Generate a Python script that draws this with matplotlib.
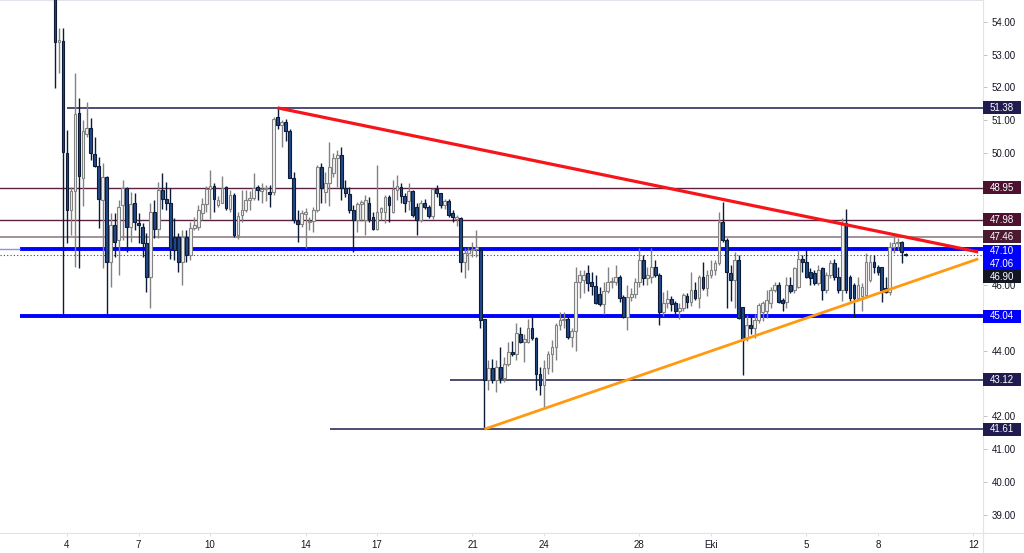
import matplotlib
matplotlib.use('Agg')
import matplotlib.pyplot as plt
import matplotlib.dates as mdates
from matplotlib.patches import Rectangle
from matplotlib.lines import Line2D
from matplotlib.transforms import IdentityTransform
import numpy as np
from datetime import datetime, timedelta

plt.rcParams['font.family'] = ['Liberation Sans', 'DejaVu Sans']

# 4h candles starting 3 Sep 12:00
first_candle = datetime(2025, 9, 3, 12)

opens = [
    55.20, 53.38, 53.40, 50.00, 48.27, 48.85, 51.22, 49.24, 50.60, 50.77,
    49.97, 49.60, 48.57, 49.27, 46.69, 47.82, 47.36, 48.42, 48.95, 47.76,
    48.48, 47.88, 47.76, 47.27, 46.23, 48.20, 47.70, 48.88, 48.60, 48.50,
    47.44, 47.44, 46.69, 47.44, 46.91, 47.72, 47.76, 48.18, 48.45, 48.90,
    49.00,
    48.42, 48.50, 48.98, 48.30, 48.72, 47.50, 48.12, 48.27, 48.57, 48.63,
    48.98, 48.86, 48.90, 48.82, 48.82, 51.10, 50.85, 50.95, 50.68, 49.24,
    47.94, 47.85, 48.15, 47.90, 47.95, 48.27, 49.57, 48.82, 49.10, 49.40,
    49.85, 49.95, 48.95, 48.76, 48.27, 47.97, 48.45, 47.97, 48.50, 48.05,
    47.70, 48.20, 48.20, 48.66, 48.20,
    48.88, 48.98, 48.70, 48.54, 48.85, 48.36, 47.97, 48.50, 48.36, 48.10,
    48.90, 48.80, 48.42, 48.54, 48.18, 48.00, 48.03, 46.69, 46.97, 47.06,
    47.10, 47.06, 44.96, 43.10, 43.48, 43.10, 43.50, 43.17, 43.60, 43.97,
    43.90, 44.50, 44.26, 44.26, 44.68, 44.38, 43.30, 42.95, 43.48, 43.90,
    44.10, 44.78, 44.93, 44.96,
    44.42, 44.60, 46.08, 46.15, 46.36, 46.08, 45.97, 45.72, 45.42, 45.80,
    46.08, 46.10, 46.23, 45.63, 45.03, 45.63, 45.72, 46.08, 46.75, 46.20,
    46.25, 46.54, 46.30, 45.17, 45.45, 45.57, 45.45, 45.20, 45.30, 45.66,
    45.48, 45.84, 45.60, 46.23, 45.90, 46.30, 46.45, 46.66, 47.90, 47.36,
    46.36, 46.15, 46.75, 45.33,
    44.38, 44.78, 44.70, 44.93, 45.17, 45.20, 45.45, 45.84, 45.99, 45.54,
    45.48, 46.00, 45.85, 45.93, 46.80, 46.70, 46.40, 46.36, 46.05, 46.50,
    45.84, 46.30, 46.66, 46.23, 45.84, 47.88, 46.23, 45.99, 45.60, 45.66,
    45.68, 46.15, 46.70, 46.54, 46.54, 45.90, 45.78, 47.15, 47.27, 47.30,
    46.95]

highs = [
    55.50, 53.80, 53.80, 50.70, 48.97, 52.43, 51.68, 51.00, 51.55, 51.07,
    50.50, 49.88, 49.70, 49.30, 48.18, 48.18, 48.58, 49.18, 48.98, 48.82,
    48.80, 48.18, 47.88, 47.57, 48.48, 48.58, 49.12, 49.40, 49.12, 48.95,
    48.03, 47.57, 47.66, 47.66, 47.91, 48.06, 48.42, 48.64, 49.00, 49.48,
    49.10,
    48.70, 49.30, 49.00, 48.88, 48.80, 48.20, 48.88, 48.88, 48.85, 49.40,
    49.05, 49.10, 49.03, 49.03, 51.10, 51.38, 51.02, 51.05, 50.75, 49.42,
    48.27, 48.27, 48.33, 48.06, 48.36, 49.64, 49.70, 49.42, 50.35, 50.00,
    50.10, 50.20, 49.18, 48.98, 48.42, 48.51, 48.57, 48.72, 48.66, 48.20,
    49.64, 48.36, 48.72, 48.72, 49.20,
    49.35, 49.10, 48.80, 49.10, 48.88, 48.50, 48.57, 48.60, 48.42, 48.95,
    49.03, 48.80, 48.60, 48.60, 48.27, 48.12, 48.06, 47.12, 47.15, 47.30,
    47.66, 47.12, 44.96, 43.72, 43.75, 43.72, 44.10, 43.80, 44.26, 44.30,
    44.83, 44.72, 44.50, 44.95, 45.05, 44.41, 43.50, 43.72, 44.00, 44.32,
    44.85, 45.17, 45.17, 45.03,
    44.70, 46.54, 46.45, 46.45, 46.60, 46.40, 46.30, 45.93, 46.10, 46.54,
    46.25, 46.60, 46.30, 45.70, 46.00, 45.90, 46.20, 47.12, 46.90, 46.54,
    47.12, 46.75, 46.36, 45.78, 45.84, 45.66, 45.50, 45.45, 45.75, 45.75,
    46.40, 46.10, 46.30, 46.70, 46.45, 46.75, 46.75, 48.20, 48.52, 47.42,
    46.60, 47.00, 46.90, 45.33,
    45.08, 45.08, 45.12, 45.45, 45.50, 45.84, 45.93, 46.10, 46.10, 45.60,
    46.23, 46.23, 46.54, 47.05, 46.90, 47.05, 46.50, 46.45, 46.60, 46.55,
    46.40, 46.75, 46.80, 46.54, 48.03, 48.30, 46.30, 46.05, 46.23, 46.05,
    46.98, 46.90, 46.90, 46.60, 46.54, 46.23, 47.30, 47.45, 47.42, 47.33,
    46.97]

lows = [
    51.98, 52.45, 45.10, 47.27, 47.50, 46.55, 46.50, 48.40, 50.50, 49.80,
    49.58, 47.72, 46.50, 45.10, 45.92, 46.85, 46.30, 47.36, 47.00, 47.30,
    47.67, 47.27, 46.85, 45.78, 45.30, 47.42, 47.42, 48.30, 48.27, 46.80,
    46.76, 46.39, 45.98, 46.69, 46.76, 47.66, 47.66, 47.97, 48.20, 48.00,
    48.20,
    48.36, 48.48, 48.27, 48.20, 47.44, 47.40, 47.90, 48.20, 48.27, 48.57,
    48.57, 48.50, 48.55, 48.36, 48.72, 50.75, 50.20, 50.36, 49.24, 47.88,
    47.30, 47.75, 47.12, 47.66, 47.60, 48.20, 48.50, 48.48, 48.40, 49.27,
    48.98, 48.57, 48.66, 48.18, 47.00, 47.60, 47.94, 47.50, 47.90, 47.66,
    47.66, 47.97, 47.88, 47.90, 48.18,
    48.57, 48.48, 48.20, 48.27, 48.06, 47.50, 47.90, 48.30, 48.03, 48.00,
    48.66, 48.33, 48.30, 48.06, 47.90, 47.80, 46.39, 46.20, 46.45, 46.85,
    46.85, 44.70, 41.61, 42.80, 43.00, 42.75, 43.00, 43.05, 43.54, 43.85,
    43.70, 44.23, 43.64, 44.23, 44.32, 42.80, 42.65, 42.27, 43.30, 43.36,
    43.70, 44.63, 44.70, 44.35,
    44.10, 44.00, 45.60, 45.75, 45.80, 45.70, 45.42, 45.36, 45.12, 45.75,
    45.90, 46.00, 45.48, 45.00, 44.63, 45.50, 45.60, 45.93, 45.98, 45.98,
    46.05, 46.23, 44.78, 45.05, 45.30, 45.20, 45.10, 44.95, 45.20, 45.30,
    45.36, 45.54, 45.30, 45.84, 45.66, 46.20, 46.30, 46.60, 47.30, 45.30,
    45.50, 45.30, 44.95, 43.25,
    44.30, 44.50, 44.38, 44.85, 44.90, 45.00, 45.30, 45.78, 45.45, 45.20,
    45.30, 45.75, 45.75, 45.90, 46.40, 46.20, 45.99, 45.98, 45.98, 45.54,
    45.75, 46.20, 46.15, 45.75, 45.50, 45.75, 45.50, 45.03, 45.50, 45.20,
    45.60, 46.10, 46.36, 46.30, 45.48, 45.75, 45.70, 46.97, 47.06, 46.66,
    46.88]

closes = [
    53.38, 53.45, 50.03, 48.27, 48.85, 51.19, 49.30, 50.67, 50.77, 50.00,
    49.60, 48.60, 49.27, 46.69, 47.82, 47.30, 48.37, 48.95, 47.76, 48.45,
    47.90, 47.82, 47.27, 46.23, 48.20, 47.70, 48.88, 48.60, 48.48, 47.10,
    47.07, 46.69, 47.44, 46.91, 47.72, 47.82, 48.27, 48.45, 48.90, 49.00,
    48.60,
    48.57, 48.95, 48.33, 48.72, 47.50, 48.10, 48.27, 48.57, 48.63, 48.95,
    48.88, 48.92, 48.94, 48.75, 51.05, 50.85, 50.95, 50.68, 49.24, 47.97,
    47.85, 48.18, 48.20, 47.95, 48.27, 49.57, 48.94, 49.10, 49.57, 49.85,
    49.95, 48.95, 48.80, 48.27, 47.97, 48.45, 48.51, 48.57, 48.00, 47.70,
    48.20, 48.33, 48.66, 48.42, 48.90,
    49.00, 48.70, 48.50, 48.85, 48.12, 47.97, 48.50, 48.36, 48.10, 48.90,
    48.80, 48.42, 48.54, 48.12, 48.06, 48.06, 46.69, 46.97, 47.06, 47.10,
    47.14, 44.93, 43.10, 43.48, 43.10, 43.50, 43.17, 43.60, 43.96, 43.90,
    44.52, 44.26, 44.35, 44.70, 44.38, 43.30, 42.95, 43.48, 43.90, 44.10,
    44.78, 44.93, 44.96, 44.42,
    44.60, 46.08, 46.30, 46.30, 46.05, 45.97, 45.45, 45.42, 45.80, 46.08,
    46.12, 46.23, 45.60, 45.03, 45.63, 45.72, 46.10, 46.75, 46.20, 46.30,
    46.54, 46.30, 45.17, 45.45, 45.57, 45.42, 45.20, 45.30, 45.70, 45.48,
    45.84, 45.60, 46.23, 45.90, 46.30, 46.45, 46.66, 47.90, 47.36, 46.39,
    46.15, 46.75, 44.98, 44.32,
    44.78, 44.68, 44.93, 45.38, 45.45, 45.54, 45.84, 45.99, 45.48, 45.45,
    46.00, 45.80, 46.50, 46.80, 46.70, 46.25, 46.20, 46.05, 46.45, 45.84,
    46.30, 46.66, 46.23, 45.84, 47.88, 45.84, 45.60, 45.60, 45.99, 45.93,
    46.70, 46.70, 46.54, 46.39, 45.84, 45.78, 47.15, 47.27, 47.30, 47.00,
    46.90]

# horizontal levels: price, start, colour, width
hl_levels = [51.38, 48.95, 47.98, 47.46, 47.10, 45.04, 43.12, 41.61]
hl_start = [datetime(2025, 9, 4), datetime(2025, 8, 31), datetime(2025, 8, 31),
            datetime(2025, 8, 31), datetime(2025, 9, 2, 1), datetime(2025, 9, 2, 1),
            datetime(2025, 9, 20, 1), datetime(2025, 9, 15, 1)]
hl_colors = ['#1e1b4b', '#5a2240', '#5a2240', '#a3909a', '#0000ff', '#0000ff', '#1e1b4b', '#1e1b4b']
hl_widths = [1.1, 1.0, 1.0, 1.4, 2.8, 2.8, 1.1, 1.1]
last_price = 46.90

# trend lines (end points)
red_end = (datetime(2025, 10, 12, 5), 47.00)
orange_end = (datetime(2025, 10, 12, 5), 46.79)

# price axis: plain ticks (the ones hidden under tags are left blank)
ytick_values = [39, 40, 41, 42, 43, 44, 45, 46, 47, 48, 49, 50, 51, 52, 53, 54]
ytick_labels = ['39.00', '40.00', '41.00', '42.00', '', '44.00', '', '46.00',
                '', '', '', '50.00', '51.00', '52.00', '53.00', '54.00']

# price axis tags
tag_text = ['51.38', '48.95', '47.98', '47.46', '47.10', '47.06', '46.90', '45.04', '43.12', '41.61']
tag_value = [51.38, 48.95, 47.98, 47.46, 47.10, 47.06, 46.90, 45.04, 43.12, 41.61]
tag_color = ['#211c50', '#4c1230', '#4c1230', '#4a1a30', '#0000ff', '#0000ff', '#131722',
             '#0000ff', '#211c50', '#211c50']
tag_shift = [0, 0, 0, 0, -2.5, -13.7, -21.5, 0, 0, 0]

xtick_dates = [datetime(2025, 9, d) for d in (4, 7, 10, 14, 17, 21, 24, 28)] + \
              [datetime(2025, 10, d) for d in (1, 5, 8, 12)]
xtick_labels = ['4', '7', '10', '14', '17', '21', '24', '28', 'Eki', '5', '8', '12']

o = np.array(opens); h = np.array(highs); l = np.array(lows); c = np.array(closes)
times = [first_candle + timedelta(hours=4 * i) for i in range(len(c))]
x = mdates.date2num(times)

fig = plt.figure(figsize=(10.24, 5.53), dpi=100)
ax = fig.add_axes([0, 20 / 553, 983 / 1024, 533 / 553])

base = mdates.date2num(datetime(2025, 9, 4))
ax.set_xlim(base - 67 / 23.85, base + 916 / 23.85)
ax.set_ylim(38.454, 54.66)

# levels
for lv, st, col, lw in zip(hl_levels, hl_start, hl_colors, hl_widths):
    ax.hlines(lv, mdates.date2num(st), base + 60, color=col, lw=lw, zorder=2)
ax.hlines(47.10, base - 5, mdates.date2num(datetime(2025, 9, 2, 1)), color='#8c8cff', lw=1.0, zorder=2)
ax.axhline(last_price, color='#444444', lw=0.8, ls=(0, (1, 2)), zorder=2)

# candles
up = c >= o
dn = ~up
w = 0.7 / 6
ax.vlines(x[up], l[up], h[up], color='#828282', lw=1.0, zorder=3)
ax.vlines(x[dn], l[dn], h[dn], color='#0d1b36', lw=1.0, zorder=3)
ax.bar(x[up], c[up] - o[up], bottom=o[up], width=w, color='#f4f4f4',
       edgecolor='#828282', linewidth=0.8, zorder=4)
ax.bar(x[dn], o[dn] - c[dn], bottom=c[dn], width=w, color='#21498a',
       edgecolor='#0d1b36', linewidth=0.8, zorder=4)

# trend lines
ax.plot([x[56], mdates.date2num(red_end[0])], [highs[56], red_end[1]],
        color='#f5151a', lw=2.3, solid_capstyle='butt', zorder=5)
ax.plot([x[108], mdates.date2num(orange_end[0])], [lows[108], orange_end[1]],
        color='#ff9a10', lw=2.0, solid_capstyle='butt', zorder=5)

# axes styling
ax.spines['left'].set_visible(False)
for s in ['right', 'bottom', 'top']:
    ax.spines[s].set_color('#e0e3eb')
    ax.spines[s].set_linewidth(0.8)
ax.yaxis.tick_right()
ax.set_yticks(ytick_values)
ax.set_yticklabels(ytick_labels)
ax.tick_params(axis='y', length=3, width=0.6, color='#b2b5be', pad=3,
               labelsize=7, labelcolor='#131722')
ax.set_xticks(mdates.date2num(xtick_dates))
ax.set_xticklabels(xtick_labels)
ax.tick_params(axis='x', length=2, width=0.6, color='#d6d9e0', pad=3,
               labelsize=7, labelcolor='#131722')

fig.add_artist(Line2D([983, 1024], [20, 20], transform=IdentityTransform(), color='#e0e3eb', lw=0.8))
fig.add_artist(Line2D([983, 983], [0, 20], transform=IdentityTransform(), color='#e0e3eb', lw=0.8))

# price tags
for txt, val, col, sh in zip(tag_text, tag_value, tag_color, tag_shift):
    yd = ax.transData.transform((base, val))[1] + sh
    fig.add_artist(Rectangle((983, yd - 6.5), 38, 13, transform=IdentityTransform(),
                             facecolor=col, edgecolor='none', zorder=5))
    fig.text(1002, yd, txt, transform=IdentityTransform(), color='white', fontsize=7,
             ha='center', va='center', zorder=6)

fig.savefig('out.png', dpi=100, facecolor='white')
